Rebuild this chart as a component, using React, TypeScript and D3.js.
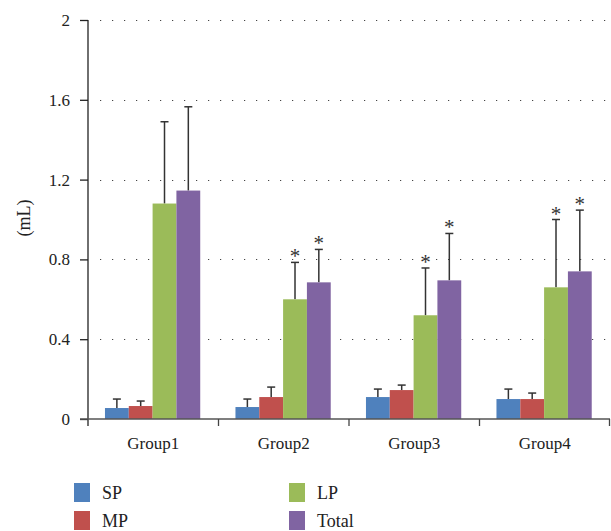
import React, { useEffect, useRef } from 'react';
import * as d3 from 'd3';

const groups = ['Group1', 'Group2', 'Group3', 'Group4'];
const seriesNames = ['SP', 'MP', 'LP', 'Total'];
const seriesColors = ['#4F81BD', '#C0504D', '#9BBB59', '#8064A2'];

const spValues = [0.055, 0.06, 0.11, 0.10];
const mpValues = [0.065, 0.11, 0.145, 0.10];
const lpValues = [1.08, 0.60, 0.52, 0.66];
const totalValues = [1.145, 0.685, 0.695, 0.74];

const spErrors = [0.045, 0.04, 0.04, 0.05];
const mpErrors = [0.025, 0.05, 0.025, 0.03];
const lpErrors = [0.41, 0.185, 0.237, 0.34];
const totalErrors = [0.42, 0.165, 0.235, 0.307];

const lpStars = [false, true, true, true];
const totalStars = [false, true, true, true];

const yTicks = [0, 0.4, 0.8, 1.2, 1.6, 2];

const W = 611;
const H = 531;

export default function App() {
  const svgRef = useRef<SVGSVGElement>(null);

  useEffect(() => {
    if (!svgRef.current) return;
    const svg = d3.select(svgRef.current);
    svg.selectAll('*').remove();

    const font = "'Liberation Serif', 'DejaVu Serif', serif";
    const left = 88;
    const right = 610;
    const top = 20;
    const bottom = 419;

    const values = [spValues, mpValues, lpValues, totalValues];
    const errors = [spErrors, mpErrors, lpErrors, totalErrors];
    const stars = [null, null, lpStars, totalStars];

    const x0 = d3.scaleBand().domain(groups).range([left, right]).paddingInner(0).paddingOuter(0);
    // bars cover ~73% of each group
    const x1 = d3.scaleBand().domain(seriesNames)
      .range([x0.bandwidth() * 0.13, x0.bandwidth() * 0.86]).paddingOuter(0).paddingInner(0);
    const y = d3.scaleLinear().domain([0, 2]).range([bottom, top]);

    svg.append('rect').attr('width', W).attr('height', H).attr('fill', '#fff');

    // dotted grid
    svg.append('g')
      .selectAll('line')
      .data(yTicks.filter(t => t > 0))
      .enter().append('line')
      .attr('x1', left + 12)
      .attr('x2', right)
      .attr('y1', d => Math.round(y(d)) + 0.5)
      .attr('y2', d => Math.round(y(d)) + 0.5)
      .attr('stroke', '#444')
      .attr('stroke-width', 1.2)
      .attr('stroke-dasharray', '1.2 10.8');

    const barData = groups.flatMap((g, gi) =>
      seriesNames.map((s, si) => ({
        g, s, si,
        v: values[si][gi],
        e: errors[si][gi],
        star: stars[si] ? (stars[si] as boolean[])[gi] : false,
      }))
    );

    const barX = (d: typeof barData[0]) => (x0(d.g) || 0) + (x1(d.s) || 0);
    const bw = x1.bandwidth();

    // error bars
    const eg = svg.append('g').attr('stroke', '#333').attr('stroke-width', 1.5);
    barData.forEach(d => {
      const cx = barX(d) + bw / 2;
      eg.append('line').attr('x1', cx).attr('x2', cx).attr('y1', y(d.v)).attr('y2', y(d.v + d.e));
      eg.append('line').attr('x1', cx - 4).attr('x2', cx + 4).attr('y1', y(d.v + d.e)).attr('y2', y(d.v + d.e));
    });

    // bars
    svg.append('g')
      .selectAll('rect')
      .data(barData)
      .enter().append('rect')
      .attr('x', d => barX(d))
      .attr('y', d => y(d.v))
      .attr('width', bw)
      .attr('height', d => bottom - y(d.v))
      .attr('fill', d => seriesColors[d.si]);

    // asterisks
    svg.append('g')
      .selectAll('text')
      .data(barData.filter(d => d.star))
      .enter().append('text')
      .attr('x', d => barX(d) + bw / 2)
      .attr('y', d => y(d.v + d.e) + 1)
      .attr('text-anchor', 'middle')
      .attr('font-family', font)
      .attr('font-size', 21)
      .attr('fill', '#333')
      .text('*');

    // y axis
    const yAxis = svg.append('g')
      .attr('transform', `translate(${left},0)`)
      .call(d3.axisLeft(y).tickValues(yTicks).tickSize(8).tickPadding(10).tickFormat(d => String(d)));
    yAxis.select('.domain').remove();
    yAxis.selectAll('line').attr('stroke', '#222').attr('stroke-width', 1.3);
    yAxis.selectAll('text')
      .attr('font-family', font)
      .attr('font-size', 17)
      .attr('fill', '#222');
    svg.append('line')
      .attr('x1', left).attr('x2', left)
      .attr('y1', top).attr('y2', bottom + 7)
      .attr('stroke', '#222').attr('stroke-width', 1.3);

    // x axis
    svg.append('line')
      .attr('x1', left - 8).attr('x2', right)
      .attr('y1', bottom).attr('y2', bottom)
      .attr('stroke', '#555').attr('stroke-width', 1.5);
    const xAxis = svg.append('g')
      .attr('transform', `translate(0,${bottom})`)
      .call(d3.axisBottom(x0).tickSize(0).tickPadding(18));
    xAxis.select('.domain').remove();
    xAxis.selectAll('text')
      .attr('font-family', font)
      .attr('font-size', 17)
      .attr('fill', '#222');
    svg.append('g')
      .selectAll('line')
      .data(groups.slice(1).concat(['end']))
      .enter().append('line')
      .attr('x1', d => d === 'end' ? right - 0.5 : (x0(d) || 0))
      .attr('x2', d => d === 'end' ? right - 0.5 : (x0(d) || 0))
      .attr('y1', bottom)
      .attr('y2', bottom + 7)
      .attr('stroke', '#444')
      .attr('stroke-width', 1.3);

    // y label
    svg.append('text')
      .attr('transform', `translate(30,${218}) rotate(-90)`)
      .attr('text-anchor', 'middle')
      .attr('font-family', font)
      .attr('font-size', 18)
      .attr('fill', '#222')
      .text('(mL)');

    // legend
    const legendPos = [
      { x: 74, y: 483 }, { x: 74, y: 511 },
      { x: 289, y: 483 }, { x: 289, y: 511 },
    ];
    const lg = svg.append('g')
      .selectAll('g')
      .data(seriesNames)
      .enter().append('g')
      .attr('transform', (d, i) => `translate(${legendPos[i].x},${legendPos[i].y})`);
    lg.append('rect').attr('width', 16).attr('height', 19).attr('fill', (d, i) => seriesColors[i]);
    lg.append('text')
      .attr('x', 28)
      .attr('y', 16)
      .attr('font-family', font)
      .attr('font-size', 18)
      .attr('fill', '#222')
      .text(d => d);
  }, []);

  return (
    <svg ref={svgRef} width={W} height={H} viewBox={`0 0 ${W} ${H}`}
      style={{ position: 'absolute', left: 0, top: 0, display: 'block' }} />
  );
}
